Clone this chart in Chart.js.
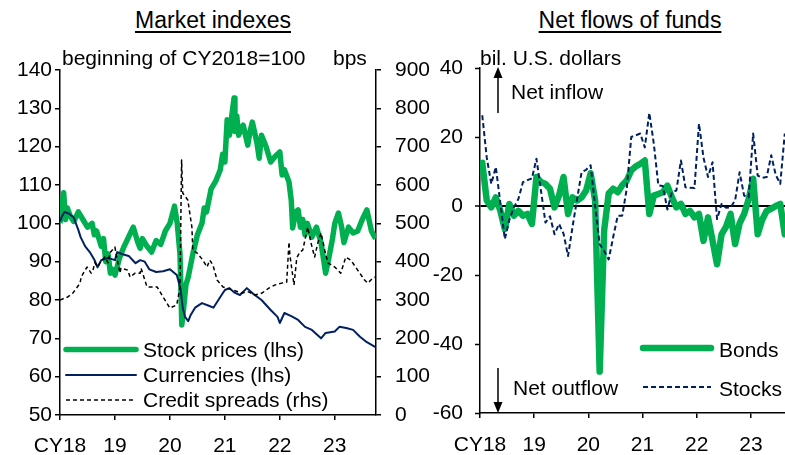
<!DOCTYPE html>
<html><head><meta charset="utf-8">
<script src="https://cdn.jsdelivr.net/npm/chart.js@4/dist/chart.umd.min.js"></script>
<style>
html,body{margin:0;padding:0;background:#fff;}
body{width:785px;height:455px;position:relative;overflow:hidden;font-family:"Liberation Sans",Arial,sans-serif;}
.title{position:absolute;top:7px;font-size:23px;line-height:normal;text-decoration:underline;text-underline-offset:3px;color:#000;white-space:nowrap;transform:translateX(-50%);}
canvas{position:absolute;top:0;}
</style></head><body>
<div class="title" style="left:213px">Market indexes</div>
<div class="title" style="left:630px">Net flows of funds</div>
<canvas id="left" width="440" height="455" style="left:0"></canvas>
<canvas id="right" width="365" height="455" style="left:420px"></canvas>
<script>
// ---------- data ----------
const yearTicks = [0, 12, 24, 36, 48, 60];            // months since Jan 2018
const yearLabels = ['CY18', '19', '20', '21', '22', '23'];

// Market indexes (month position since Jan 2018, value)
const stockMonths = [0,0.3,0.8,1.2,1.6,2.2,3,4,5,6,7,7.5,8,9,9.5,10,10.5,11,11.5,12,13,14,15,16,17,17.5,18,19,20,21,22,23,24,25,25.6,26.2,26.6,27,27.5,28,29,30,31,31.5,32,33,34,35,35.5,36,36.5,37,37.5,38,38.2,38.6,39,40,41,41.5,42,43,43.5,44,45,46,47,48,48.5,49,50,50.5,50.8,51.5,52,52.5,53,53.5,54,55,56,57,58,58.7,59.5,60,60.8,61.5,62,63,64,65,66,67,68,68.9];
const stockValues = [100,104,108,101,104,102,100.5,103,101,99,100,97,98,94,96,90,92,87,88,86.5,91,94,96.5,99,95,93.5,96,94,92.5,95.5,94.5,98,100,104.5,100,92,73.5,78,84,86,92,97,100,104,103,109,111,114,118,116,127,123,128,132.7,124,128,123,125.6,120.4,124,126.4,121,117,123,120,116,117.5,118.6,112.6,114,110.8,106,98.8,103,103.5,99,101,97,100,96.4,99,95,87,91,96,100,102.7,99,95,99,97.5,98,101,103.5,98,96];

const curMonths = [0,0.5,1,2,3,4,4.5,5.5,6.5,7.5,8.2,9,10.5,12,12.5,13.5,15,16.5,17.5,18.5,19.5,21,22.5,24,25.5,26.3,26.8,27.3,28,28.5,29.5,31,32.5,33.5,35,36,37,38,39.3,40.8,42,44,46,47.5,48,49,50.5,52,53.5,55,57,58,60,61,62.5,64,65.5,67,68.9];
const curValues = [100.5,102,103,102.5,101.5,98.3,96.4,94,92.5,90.5,88.5,90.4,91,90.4,92.5,92,91.5,89.6,90.4,90,88,87.3,87.5,88,86.5,83,78,75.6,74.5,76,78,79.2,78.5,78,80.8,82.6,83.1,82,81.3,83.1,81.8,80,77.4,75.6,74,76.6,75.8,74.8,73,72.2,70,71.4,71.8,73,72.7,72.2,70.4,69,67.7];

const creditMonths = [0,1.7,2.8,3.3,4.4,4.6,5.9,6.8,7.2,7.6,8.3,8.7,9.8,10.5,10.9,12,12.2,13.1,13.3,14.8,15.3,16.4,17.5,17.7,19,21.2,22.5,24,25.5,26.2,26.55,26.8,27.9,28.8,29,29.9,31.2,32.1,32.7,33.4,34.3,35.6,37.7,39.7,41.2,42.5,44.1,45.6,46.9,48.4,49.5,50,50.2,51.1,51.7,52.4,53,54.1,54.8,55.6,56.3,57,57.8,58.5,60,61.3,62.4,63.5,65,66.5,67.2,68.3,68.9];
const creditValues = [300,308,318,326,344,360,386,370,378,397,386,397,412,397,423,438,423,370,383,378,360,370,370,383,334,334,308,279,287,334,665,579,561,490,430,423,404,386,404,391,352,334,326,318,321,313,318,331,339,344,347,451,417,339,410,425,430,490,449,412,449,475,430,397,386,370,412,404,378,352,344,357,360];

// Net flows of funds, monthly Jan 2018 - Aug 2023 (bil. U.S. dollars)
const bondFlows = [12.5,1.6,-0.4,2.5,-1.4,-6.7,0.6,-2.8,-1.4,-2.8,
  -2.3,-5.2,8.4,7,6.4,5,-0.4,3,8.4,-2.3,
  2.5,1.6,2.5,4.5,9.5,1.6,-48,-7,3.6,5,
  4,6,7.4,10.3,11.5,12.2,13.2,-2.3,3,3.5,
  4,5.9,2.5,-0.4,0.6,-2.3,-1.4,-3.3,-2.3,-10.1,
  -3.3,-10,-16.9,-8.2,-6,-2.3,-11,-5,-2.3,2,
  7.9,-8.2,-4,-1.4,-0.8,0,0.6,-8.2];
const stockFlows = [26.3,14,6.4,11.3,1,-9.6,-4,-0.4,2,6.9,
  7.5,8,13.7,4.5,-4.8,-3,-8.2,-5.2,-8,-14.5,
  -6,2,9.8,10.5,11.8,0,-11.1,-13,-15.5,-9,
  -2.8,-2.8,5,20,20.5,21,17,27,18,6,
  5.8,-1,4,4.5,13.2,5.4,5.3,5.2,23.9,14,
  8.4,12.7,-3.8,0.6,-0.5,-0.4,1.6,9.8,3,2.5,
  21,8.8,8.2,8.4,14.7,9,6.4,21];

// ---------- styling ----------
const GREEN = '#00B050', NAVY = '#002060';
const FONT = '"Liberation Sans", Arial, sans-serif';
Chart.defaults.font.family = FONT;
Chart.defaults.font.size = 21;
Chart.defaults.color = '#000';

const pts = (xs, ys) => xs.map((x, i) => ({x: x, y: ys[i]}));
const monthly = ys => ys.map((y, i) => ({x: i + 0.5, y: y}));
const setYearTicks = s => { s.ticks = yearTicks.map(v => ({value: v})); };
const yearCb = v => yearLabels[yearTicks.indexOf(v)] ?? '';

function axisGrid(extra) {
  return Object.assign({drawOnChartArea: false, color: '#000', tickColor: '#000', tickLength: 5, lineWidth: 1.5, tickWidth: 1.5}, extra || {});
}
const border = {color: '#000', width: 1.5};

// ---------- left chart ----------
const leftAnnot = {
  id: 'leftAnnot',
  afterDraw(chart) {
    const ctx = chart.ctx;
    ctx.save();
    ctx.font = '21px ' + FONT;
    ctx.fillStyle = '#000';
    ctx.textBaseline = 'alphabetic';
    ctx.textAlign = 'left';
    ctx.fillText('beginning of CY2018=100', 62, 65);
    ctx.fillText('bps', 333, 65);
    const items = [[0, 349.5, 357], [1, 375, 382], [2, 400, 407]];
    items.forEach(([i, ly, ty]) => {
      const ds = chart.data.datasets[i];
      ctx.save();
      ctx.strokeStyle = ds.borderColor;
      ctx.lineWidth = ds.borderWidth;
      ctx.setLineDash(ds.borderDash || []);
      ctx.lineCap = ds.borderDash ? 'butt' : 'round';
      ctx.beginPath(); ctx.moveTo(66, ly); ctx.lineTo(136, ly); ctx.stroke();
      ctx.restore();
      ctx.fillText(ds.label, 143, ty);
    });
    ctx.restore();
  }
};

new Chart(document.getElementById('left'), {
  type: 'line',
  data: {datasets: [
    {label: 'Stock prices (lhs)', data: pts(stockMonths, stockValues), borderColor: GREEN, borderWidth: 5.5, yAxisID: 'y', order: 3},
    {label: 'Currencies (lhs)', data: pts(curMonths, curValues), borderColor: NAVY, borderWidth: 2, yAxisID: 'y', order: 2},
    {label: 'Credit spreads (rhs)', data: pts(creditMonths, creditValues), borderColor: '#000', borderWidth: 1.5, borderDash: [4, 3], yAxisID: 'y2', order: 1}
  ]},
  options: {
    responsive: false, animation: false, devicePixelRatio: 1,
    layout: {padding: {top: 70, left: 0, right: 0, bottom: 0}},
    elements: {point: {radius: 0}, line: {tension: 0, borderJoinStyle: 'round', fill: false}},
    plugins: {legend: {display: false}, tooltip: {enabled: false}},
    scales: {
      x: {type: 'linear', min: 0, max: 69, afterBuildTicks: setYearTicks,
          ticks: {callback: yearCb, padding: 14, maxRotation: 0, autoSkip: false},
          grid: axisGrid(), border: border, afterFit: s => { s.height = 40; }},
      y: {position: 'left', min: 50, max: 140, ticks: {stepSize: 10, padding: 3},
          grid: axisGrid(), border: border, afterFit: s => { s.width = 60; }},
      y2: {position: 'right', min: 0, max: 900, ticks: {stepSize: 100, padding: 14},
          grid: axisGrid(), border: border, afterFit: s => { s.width = 64; }}
    }
  },
  plugins: [leftAnnot]
});

// ---------- right chart ----------
const rightAnnot = {
  id: 'rightAnnot',
  afterDraw(chart) {
    const ctx = chart.ctx;
    ctx.save();
    ctx.font = '21px ' + FONT;
    ctx.fillStyle = '#000';
    ctx.strokeStyle = '#000';
    ctx.textBaseline = 'alphabetic';
    ctx.textAlign = 'left';
    ctx.fillText('bil. U.S. dollars', 60, 65);
    ctx.fillText('Net inflow', 91, 99);
    ctx.fillText('Net outflow', 93, 395);
    ctx.lineWidth = 1.5;
    ctx.beginPath(); ctx.moveTo(78, 113); ctx.lineTo(78, 75); ctx.stroke();
    ctx.beginPath(); ctx.moveTo(78, 67); ctx.lineTo(73.5, 78); ctx.lineTo(82.5, 78); ctx.closePath(); ctx.fill();
    ctx.beginPath(); ctx.moveTo(78, 368); ctx.lineTo(78, 405); ctx.stroke();
    ctx.beginPath(); ctx.moveTo(78, 413); ctx.lineTo(73.5, 402); ctx.lineTo(82.5, 402); ctx.closePath(); ctx.fill();
    const items = [[0, 348, 357], [1, 387, 396]];
    items.forEach(([i, ly, ty]) => {
      const ds = chart.data.datasets[i];
      ctx.save();
      ctx.strokeStyle = ds.borderColor;
      ctx.lineWidth = ds.borderWidth;
      ctx.setLineDash(ds.borderDash || []);
      ctx.lineCap = ds.borderDash ? 'butt' : 'round';
      ctx.beginPath(); ctx.moveTo(223, ly); ctx.lineTo(291, ly); ctx.stroke();
      ctx.restore();
      ctx.fillText(ds.label, 299, ty);
    });
    ctx.restore();
  }
};

new Chart(document.getElementById('right'), {
  type: 'line',
  data: {datasets: [
    {label: 'Bonds', data: monthly(bondFlows), borderColor: GREEN, borderWidth: 6.5, order: 2, borderCapStyle: 'round'},
    {label: 'Stocks', data: monthly(stockFlows), borderColor: NAVY, borderWidth: 2, borderDash: [5, 3], order: 1}
  ]},
  options: {
    responsive: false, animation: false, devicePixelRatio: 1,
    layout: {padding: {top: 68, left: 0, right: 0, bottom: 0}},
    elements: {point: {radius: 0}, line: {tension: 0, borderJoinStyle: 'round', fill: false}},
    plugins: {legend: {display: false}, tooltip: {enabled: false}},
    scales: {
      x: {type: 'linear', min: 0, max: 67.55, afterBuildTicks: setYearTicks,
          ticks: {callback: yearCb, padding: 15, maxRotation: 0, autoSkip: false},
          grid: axisGrid(), border: border, afterFit: s => { s.height = 42; }},
      y: {position: 'left', min: -60, max: 40, ticks: {stepSize: 20, padding: 12},
          grid: {drawOnChartArea: true, tickLength: 5, tickColor: '#000', tickWidth: 1.5,
                 color: c => (c.tick && c.tick.value === 0) ? '#000' : 'rgba(0,0,0,0)',
                 lineWidth: c => (c.tick && c.tick.value === 0) ? 2 : 1},
          border: border, afterFit: s => { s.width = 60; }}
    }
  },
  plugins: [rightAnnot]
});
</script>
</body></html>
